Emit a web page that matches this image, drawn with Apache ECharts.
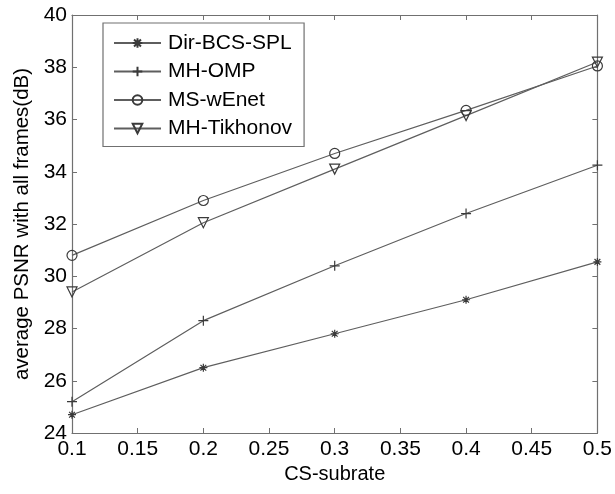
<!DOCTYPE html>
<html>
<head>
<meta charset="utf-8">
<script src="https://cdn.jsdelivr.net/npm/echarts@6/dist/echarts.min.js"></script>
<style>
  html, body { margin: 0; padding: 0; background: #fff; }
  #chart { width: 615px; height: 494px; }
</style>
</head>
<body>
<div id="chart"></div>
<script>
// Sampling rates on the x axis
const subrates = [0.1, 0.2, 0.3, 0.4, 0.5];

// Average PSNR (dB) over all frames for each method
const dirBcsSpl   = [24.7, 26.5, 27.8, 29.1, 30.55];
const mhOmp       = [25.2, 28.3, 30.4, 32.4, 34.25];
const msWEnet     = [30.8, 32.9, 34.7, 36.35, 38.05];
const mhTikhonov  = [29.4, 32.05, 34.1, 36.15, 38.2];

const seriesNames = ['Dir-BCS-SPL', 'MH-OMP', 'MS-wEnet', 'MH-Tikhonov'];

const xTickInterval = 0.05;
const yTicks = { min: 24, max: 40, interval: 2 };

const LINE = '#5e5e5e';
const AXIS = '#707070';
const FONT = '"Liberation Sans", Arial, sans-serif';

// Marker glyphs: asterisk, plus, open circle, downward triangle
const ASTERISK = 'path://M0,-5L0,5M-5,0L5,0M-3.6,-3.6L3.6,3.6M-3.6,3.6L3.6,-3.6';
const PLUS = 'path://M0,-5L0,5M-5,0L5,0';

function pairs(ys) {
  return subrates.map((x, i) => [x, ys[i]]);
}

function lineSeries(name, ys, symbol, size, rotate) {
  return {
    name: name,
    type: 'line',
    data: pairs(ys),
    symbol: symbol,
    symbolSize: size,
    symbolRotate: rotate || 0,
    showAllSymbol: true,
    lineStyle: { color: LINE, width: 1.2 },
    itemStyle: { color: 'rgba(0,0,0,0)', borderColor: '#3a3a3a', borderWidth: 1.2 },
    emphasis: { disabled: true },
    animation: false,
    z: 3
  };
}

const boxAxisLine = { show: true, lineStyle: { color: AXIS, width: 1.2 } };
const innerTick = { show: true, inside: true, length: 5, lineStyle: { color: AXIS, width: 1 } };

const chart = echarts.init(document.getElementById('chart'), null, { renderer: 'canvas' });

chart.setOption({
  backgroundColor: '#ffffff',
  animation: false,
  textStyle: { fontFamily: FONT },
  grid: { left: 72, right: 14, top: 15, bottom: 61, containLabel: false },
  legend: {
    orient: 'vertical',
    left: 103,
    top: 23,
    data: seriesNames,
    backgroundColor: '#ffffff',
    borderColor: AXIS,
    borderWidth: 1.2,
    borderRadius: 0,
    padding: [9, 12, 7, 10],
    itemWidth: 47,
    itemHeight: 12,
    itemGap: 6.5,
    selectedMode: false,
    textStyle: { fontFamily: FONT, fontSize: 21, color: '#000', lineHeight: 22, padding: [0, 0, 0, 2] }
  },
  xAxis: [{
    type: 'value',
    min: 0.1,
    max: 0.5,
    interval: xTickInterval,
    name: 'CS-subrate',
    nameLocation: 'middle',
    nameGap: 25,
    nameTextStyle: { fontFamily: FONT, fontSize: 20, color: '#000', verticalAlign: 'top' },
    axisLine: boxAxisLine,
    axisTick: innerTick,
    axisLabel: { fontFamily: FONT, fontSize: 21, color: '#000', margin: 6 },
    splitLine: { show: false }
  }, {
    type: 'value',
    position: 'top',
    min: 0.1,
    max: 0.5,
    interval: xTickInterval,
    axisLine: boxAxisLine,
    axisTick: innerTick,
    axisLabel: { show: false },
    splitLine: { show: false }
  }],
  yAxis: [{
    type: 'value',
    min: yTicks.min,
    max: yTicks.max,
    interval: yTicks.interval,
    name: 'average PSNR with all frames(dB)',
    nameLocation: 'middle',
    nameGap: 38,
    nameTextStyle: { fontFamily: FONT, fontSize: 20.5, color: '#000' },
    axisLine: boxAxisLine,
    axisTick: innerTick,
    axisLabel: { fontFamily: FONT, fontSize: 21, color: '#000', margin: 5 },
    splitLine: { show: false }
  }, {
    type: 'value',
    position: 'right',
    min: yTicks.min,
    max: yTicks.max,
    interval: yTicks.interval,
    axisLine: boxAxisLine,
    axisTick: innerTick,
    axisLabel: { show: false },
    splitLine: { show: false }
  }],
  series: [
    lineSeries(seriesNames[0], dirBcsSpl, ASTERISK, 8),
    lineSeries(seriesNames[1], mhOmp, PLUS, 10),
    lineSeries(seriesNames[2], msWEnet, 'circle', 10),
    lineSeries(seriesNames[3], mhTikhonov, 'triangle', 10, 180)
  ]
});
</script>
</body>
</html>
